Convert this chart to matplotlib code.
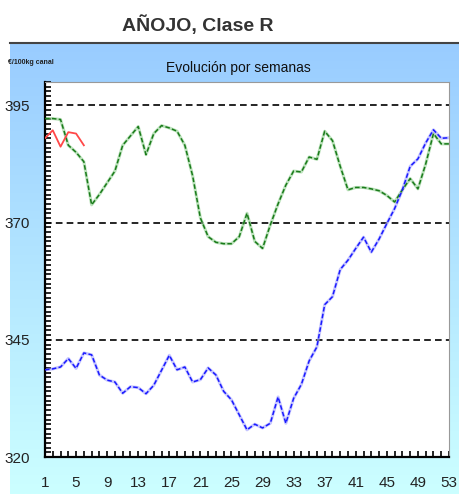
import numpy as np
import matplotlib
matplotlib.use("Agg")
import matplotlib.pyplot as plt
from matplotlib.ticker import MultipleLocator

plt.rcParams["font.family"] = ["Liberation Sans", "DejaVu Sans"]

# semanas
weeks = np.arange(1, 54)

# serie verde (año anterior)
green = [392.2, 392.2, 392.0, 386.5, 385.0, 383.0, 373.8, 376.0, 378.5, 381.0,
         386.5, 388.5, 390.5, 384.5, 389.0, 390.7, 390.2, 389.5, 386.5, 380.0,
         371.0, 367.0, 365.8, 365.5, 365.5, 367.0, 372.0, 366.0, 364.5, 369.5,
         374.0, 378.0, 381.0, 380.8, 384.0, 383.5, 389.5, 387.5, 382.0, 377.0,
         377.5, 377.5, 377.2, 376.8, 375.8, 374.4, 377.0, 379.4, 377.2, 382.5,
         389.0, 386.8, 386.8]

# serie azul
blue = [338.6, 338.8, 339.2, 341.0, 338.9, 342.2, 341.8, 337.5, 336.4, 336.0,
        333.6, 335.0, 334.8, 333.5, 335.3, 338.5, 341.7, 338.6, 339.2, 336.0,
        336.5, 339.0, 337.5, 334.0, 332.2, 329.0, 325.8, 327.0, 326.2, 327.2,
        332.8, 327.2, 332.5, 335.5, 340.5, 343.5, 352.5, 354.2, 360.0, 362.0,
        364.5, 366.9, 363.7, 366.5, 369.8, 373.0, 377.0, 382.0, 383.6, 387.0,
        389.8, 388.0, 388.1]

# serie roja (año en curso)
red_weeks = [1, 2, 3, 4, 5, 6]
red = [388.0, 389.7, 386.2, 389.3, 389.0, 386.5]

xticks = list(range(1, 54, 4))
yticks = [320, 345, 370, 395]

fig = plt.figure(figsize=(4.6, 4.94), dpi=100)

# panel de fondo con degradado
bg = fig.add_axes([10/460, 0, 450/460, 451/494])
grad = np.linspace(0, 1, 256).reshape(-1, 1)
c_top = np.array([0x99, 0xCC, 0xFF]) / 255
c_bot = np.array([0xCC, 0xFF, 0xFF]) / 255
img = c_top + (c_bot - c_top) * grad[:, :, None]
bg.imshow(img, aspect="auto", extent=[0, 1, 0, 1], origin="upper")
bg.set_xlim(0, 1)
bg.set_ylim(0, 1)
bg.axis("off")
fig.add_artist(plt.Line2D([10/460, 1], [451/494, 451/494], color="#444444", lw=1.5))

fig.text(198/460, 1 - 25/494, "AÑOJO, Clase R", ha="center", va="center",
         fontsize=14, fontweight="bold", color="#333333")
fig.text(238/460, 1 - 68/494, "Evolución por semanas", ha="center", va="center",
         fontsize=10, color="#111111")
fig.text(8/460, 1 - 62/494, "€/100kg canal", ha="left", va="center",
         fontsize=5, fontweight="bold", color="#222222")

ax = fig.add_axes([45/460, 37/494, 404/460, 375/494])
ax.set_facecolor("white")

for y in [345, 370, 395]:
    ax.axhline(y, color="black", ls=(0, (4, 2.5)), lw=1.2, zorder=1)

ax.plot(weeks, green, color="#8fcf8f", lw=2.2, alpha=0.6, zorder=2)
ax.plot(weeks, green, color="#1a7a1a", lw=1.1, ls=(0, (3, 1.5)), zorder=3)
ax.plot(weeks, blue, color="#a0a0ff", lw=2.2, alpha=0.6, zorder=2)
ax.plot(weeks, blue, color="#1a1aff", lw=1.1, ls=(0, (3, 1.5)), zorder=3)
ax.plot(red_weeks, red, color="#ff4848", lw=1.3, zorder=3)

ax.set_xlim(1, 53)
ax.set_ylim(320, 400)
ax.set_xticks(xticks)
ax.set_yticks(yticks)
ax.xaxis.set_minor_locator(MultipleLocator(1))
ax.yaxis.set_minor_locator(MultipleLocator(1))
ax.tick_params(axis="both", which="both", direction="in", color="black")
ax.tick_params(axis="x", which="both", length=4, width=1.2, labelsize=11,
               pad=14, labelcolor="#222222")
ax.tick_params(axis="y", which="both", length=4, width=1.2, labelsize=11,
               pad=11, labelcolor="#222222")
ax.tick_params(top=False, right=False, which="both")

ax.spines["left"].set_linewidth(1.6)
ax.spines["bottom"].set_linewidth(1.6)
ax.spines["top"].set_color("#999999")
ax.spines["right"].set_color("#999999")

fig.savefig("out.png", dpi=100)
